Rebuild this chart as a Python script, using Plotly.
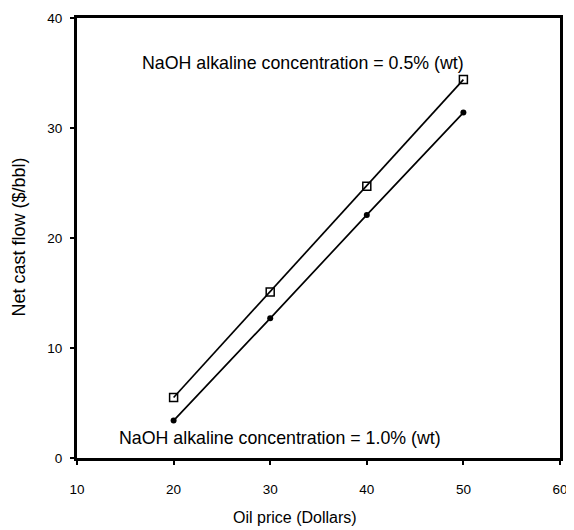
import plotly.graph_objects as go

oil_price = [20, 30, 40, 50]
cash_flow_05 = [5.5, 15.1, 24.7, 34.4]
cash_flow_10 = [3.4, 12.7, 22.1, 31.4]
x_ticks = [10, 20, 30, 40, 50, 60]
y_ticks = [0, 10, 20, 30, 40]

FONT = "Liberation Sans, Arial, sans-serif"
OFF = 8  # default page body margin
W, H = 574 - OFF, 530 - OFF
L, T = 77 - OFF, 18 - OFF
R = W - (560 - OFF)
B = H - (458 - OFF)

fig = go.Figure()
fig.add_trace(go.Scatter(
    x=oil_price, y=cash_flow_05, mode="lines+markers",
    line=dict(color="black", width=1.7),
    marker=dict(symbol="square-open", size=8, color="black", line=dict(width=1.5)),
    showlegend=False))
fig.add_trace(go.Scatter(
    x=oil_price, y=cash_flow_10, mode="lines+markers",
    line=dict(color="black", width=1.7),
    marker=dict(symbol="circle", size=6, color="black"),
    showlegend=False))

fig.add_annotation(x=33.4, y=35.9, xref="x", yref="y",
                   text="NaOH alkaline concentration = 0.5% (wt)",
                   showarrow=False, font=dict(family=FONT, size=17.8, color="black"))
fig.add_annotation(x=31.0, y=1.8, xref="x", yref="y",
                   text="NaOH alkaline concentration = 1.0% (wt)",
                   showarrow=False, font=dict(family=FONT, size=17.8, color="black"))

# axis titles placed as paper-positioned text (screen coords of reference)
pw, ph = W - L - R, H - T - B
x0s, y0s = 77, 458  # screen coords of plot-area left / bottom
fig.add_annotation(x=(295 - x0s) / pw, y=-(517 - y0s) / ph, xref="paper", yref="paper",
                   xanchor="center", yanchor="middle",
                   text="Oil price (Dollars)", showarrow=False,
                   font=dict(family=FONT, size=16, color="black"))
fig.add_annotation(x=-(x0s - 18) / pw, y=(y0s - 237.5) / ph, xref="paper", yref="paper",
                   xanchor="center", yanchor="middle",
                   text="Net cast flow ($/bbl)", showarrow=False, textangle=-90,
                   font=dict(family=FONT, size=18, color="black"))

fig.update_layout(
    width=W, height=H,
    margin=dict(l=L, r=R, t=T, b=B, autoexpand=False),
    paper_bgcolor="white", plot_bgcolor="white",
    font=dict(family=FONT, color="black", size=13.5),
)
fig.update_xaxes(
    range=[10, 60], tickvals=x_ticks, ticktext=[str(v) for v in x_ticks],
    showgrid=False, zeroline=False, automargin=False,
    showline=True, linecolor="black", linewidth=3, mirror=True,
    ticks="outside", ticklen=4, tickwidth=1.5, tickcolor="black",
    ticklabelstandoff=13,
    tickfont=dict(family=FONT, size=13.5),
)
fig.update_yaxes(
    range=[0, 40], tickvals=y_ticks, ticktext=[str(v) for v in y_ticks],
    showgrid=False, zeroline=False, automargin=False,
    showline=True, linecolor="black", linewidth=3, mirror=True,
    ticks="outside", ticklen=4, tickwidth=1.5, tickcolor="black",
    ticklabelstandoff=5,
    tickfont=dict(family=FONT, size=13.5),
)

fig.write_html("out.html")
